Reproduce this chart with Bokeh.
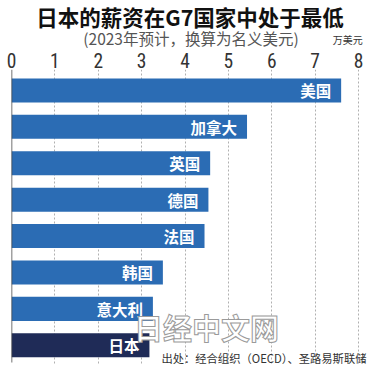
from bokeh.plotting import figure
from bokeh.layouts import column
from bokeh.models import Range1d, FixedTicker, ColumnDataSource
from bokeh.core.properties import value
from bokeh.embed import file_html
from bokeh.resources import INLINE

countries = ["美国", "加拿大", "英国", "德国", "法国", "韩国", "意大利", "日本"]
wages = [7.60, 5.43, 4.58, 4.54, 4.45, 3.49, 3.26, 3.18]
x_ticks = [0, 1, 2, 3, 4, 5, 6, 7, 8]
title_text = "日本的薪资在G7国家中处于最低"
subtitle_text = "(2023年预计，换算为名义美元)"
unit_text = "万美元"
source_text = "出处：经合组织（OECD）、圣路易斯联储"
watermark_text = "日经中文网"

BLUE = "#2b6cb4"
NAVY = "#1f2b57"
CJK = "Noto Sans CJK SC"

W = 370
TOP_H = 49            # header strip height
MAIN_H = 368 - TOP_H  # chart height

# ---------- header strip (title, subtitle, unit) ----------
head = figure(width=W, height=TOP_H, output_backend="svg", toolbar_location=None,
              x_range=Range1d(0, W), y_range=Range1d(TOP_H, 0),
              x_axis_type=None, y_axis_type=None, min_border=0)
head.outline_line_color = None
head.grid.visible = False
head.text(x=[184], y=[15.5], text=[title_text], text_align="center",
          text_baseline="middle", text_font=value(CJK), text_font_style="bold",
          text_font_size="21.5px", text_color="#111111")
head.text(x=[185], y=[37.5], text=[subtitle_text], text_align="center",
          text_baseline="middle", text_font=value(CJK), text_font_size="15.5px",
          text_color="#555555")
head.text(x=[362], y=[38.5], text=[unit_text], text_align="right",
          text_baseline="middle", text_font=value(CJK), text_font_size="10px",
          text_color="#333333")

# ---------- main chart ----------
FL = 11                 # frame left (px)
PPX = 43.375            # px per unit on x
FT = 68 - TOP_H         # frame top within chart
FB = 364 - TOP_H        # frame bottom within chart
C0, STEP = 89 - TOP_H, 36.53


def dy(py):
    return (py - C0) / STEP


p = figure(width=W, height=MAIN_H, output_backend="svg", toolbar_location=None,
           x_range=Range1d(0, (W - FL) / PPX), y_range=Range1d(dy(FB), dy(FT)),
           x_axis_location="above", y_axis_type=None,
           min_border_left=FL, min_border_right=0,
           min_border_top=FT, min_border_bottom=MAIN_H - FB)
p.outline_line_color = None

ys = list(range(len(countries)))
colors = [BLUE] * (len(countries) - 1) + [NAVY]
src = ColumnDataSource(dict(y=ys, right=wages, name=countries, color=colors))

p.ygrid.grid_line_color = None
p.xaxis.ticker = FixedTicker(ticks=x_ticks)
p.xaxis.axis_line_color = None
p.xaxis.major_tick_line_color = None
p.xaxis.minor_tick_line_color = None
p.xaxis.major_tick_out = 0
p.xaxis.major_label_standoff = 2
p.xaxis.major_label_text_font = "Liberation Sans Narrow, Roboto Condensed, sans-serif"
p.xaxis.major_label_text_font_size = "19.5px"
p.xaxis.major_label_text_color = "#333333"
p.xgrid.grid_line_color = "#b0b0b0"
p.xgrid.grid_line_dash = "2 2"
p.xgrid.grid_line_width = 1

p.hbar(y="y", left=0, right="right", height=0.66, fill_color="color",
       line_color=None, source=src)
p.segment(x0=[0], y0=[dy(FT)], x1=[0], y1=[dy(362 - TOP_H)],
          line_color="#444444", line_width=1.5)
p.text(x="right", y="y", text="name", x_offset=-10, text_align="right",
       text_baseline="middle", text_color="white", text_font=value(CJK),
       text_font_style="bold", text_font_size="15.5px", source=src)

# watermark and source note (positions in px converted to data units)
p.text(x=[(206 - FL) / PPX], y=[dy(326 - TOP_H)], text=[watermark_text],
       text_align="center", text_baseline="middle", text_font=value(CJK),
       text_font_size="29px", text_font_style="bold", text_color="white",
       text_outline_color="#9a9a9a")
p.text(x=[(366 - FL) / PPX], y=[dy(357 - TOP_H)], text=[source_text],
       text_align="right", text_baseline="middle", text_font=value(CJK),
       text_font_size="11.3px", text_color="#333333")

layout = column(head, p, spacing=0)
open("out.html", "w").write(file_html(layout, INLINE))
